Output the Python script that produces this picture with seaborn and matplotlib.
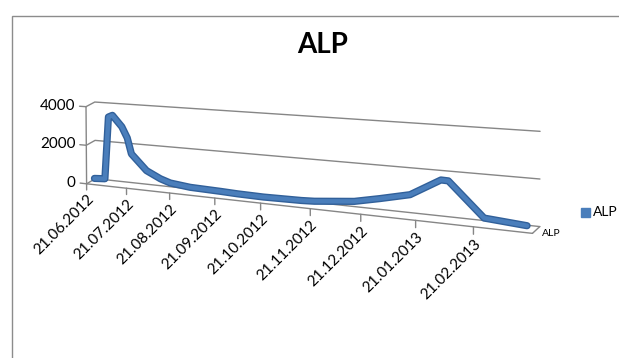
import numpy as np
import pandas as pd
import matplotlib
matplotlib.use("Agg")
import matplotlib.pyplot as plt
import matplotlib.transforms as mtransforms
import matplotlib.patheffects as pe
from matplotlib.patches import Rectangle
import seaborn as sns

# data
dates = ["21.06.2012", "29.06.2012", "02.07.2012", "05.07.2012", "12.07.2012",
         "16.07.2012", "19.07.2012", "30.07.2012", "09.08.2012", "16.08.2012",
         "30.08.2012", "20.09.2012", "01.10.2012", "18.10.2012", "11.11.2012",
         "19.11.2012", "13.12.2012", "28.12.2012", "14.01.2013", "31.01.2013",
         "04.02.2013", "23.02.2013", "17.03.2013"]
alp = [40, 80, 3300, 3400, 2850, 2300, 1500, 720, 380, 220,
       110, 70, 40, 20, 50, 80, 270, 520, 830, 1610,
       1600, 140, 10]
tick_dates = ["21.06.2012", "21.07.2012", "21.08.2012", "21.09.2012", "21.10.2012",
              "21.11.2012", "21.12.2012", "21.01.2013", "21.02.2013"]
y_ticks = [0, 2000, 4000]
axis_end = "23.03.2013"
series_name = "ALP"

W, H = 619, 358
sns.set_style("white")
plt.rcParams["font.family"] = ["Lato", "DejaVu Sans"]
plt.rcParams["text.color"] = "black"

start = pd.to_datetime(dates[0], format="%d.%m.%Y")
def day(s):
    return (pd.to_datetime(s, format="%d.%m.%Y") - start).days

T0 = float(day(axis_end))
V0 = float(max(y_ticks))

# 3d box of the excel chart: (days, value, depth) -> picture pixel
world = np.array([
    (0, 0, 0), (0, 2000, 0), (0, 4000, 0), (61, 0, 0), (122, 0, 0),
    (184, 0, 0), (245, 0, 0), (T0, 0, 0),
    (0, 0, 1), (0, 2000, 1), (0, 4000, 1), (T0, 0, 1), (T0, 2000, 1), (T0, 4000, 1)])
img = np.array([
    (86.5, 183.5), (86, 145), (86, 106), (171, 194), (261, 204),
    (360, 215), (474, 227), (533, 232),
    (95, 178), (95, 141), (95, 102), (540, 226), (540, 179), (540, 132)])


def fit_camera(world, img):
    X = world / [T0, V0, 1.0]
    p = img / 600.0
    rows = []
    for (a, b, c), (x, y) in zip(X, p):
        rows.append([a, b, c, 1, 0, 0, 0, 0, -x * a, -x * b, -x * c, -x])
        rows.append([0, 0, 0, 0, a, b, c, 1, -y * a, -y * b, -y * c, -y])
    _, _, vt = np.linalg.svd(np.array(rows))
    return vt[-1].reshape(3, 4)


P = fit_camera(world, img)


class Persp(mtransforms.Transform):
    input_dims = output_dims = 2
    is_separable = False
    has_inverse = False

    def __init__(self, z):
        super().__init__()
        self.Hm = np.column_stack([P[:, 0], P[:, 1], P[:, 3] + z * P[:, 2]])

    def transform_non_affine(self, values):
        v = np.asarray(values, float)
        shp = v.shape
        v = v.reshape(-1, 2)
        q = np.column_stack([v[:, 0] / T0, v[:, 1] / V0, np.ones(len(v))]) @ self.Hm.T
        x = q[:, 0] / q[:, 2] * 600
        y = q[:, 1] / q[:, 2] * 600
        return np.column_stack([x, H - y]).reshape(shp)


front, back, mid = Persp(0.0), Persp(1.0), Persp(0.9)
pix = mtransforms.IdentityTransform()

fig = plt.figure(figsize=(W / 100, H / 100), dpi=100)
ax = fig.add_axes([0, 0, 1, 1])
ax.set_axis_off()

grid = "#868686"
# gridlines: side wall + back wall
for v in y_ticks:
    pts = np.vstack([front.transform([0, v]), back.transform([0, v]), back.transform([T0, v])])
    ax.plot(pts[:, 0], pts[:, 1], color=grid, lw=1, transform=pix, clip_on=False)

# value axis
ax.plot([0, 0], [0, V0], color=grid, lw=1, transform=front, clip_on=False)
for v in y_ticks:
    ax.plot([-5, 0], [v, v], color=grid, lw=1, transform=front, clip_on=False)
    ax.text(-8.5, v, str(v), transform=front, ha="right", va="center", fontsize=11)

# category axis
ax.plot([0, T0], [0, 0], color=grid, lw=1, transform=front, clip_on=False)
for s in tick_dates:
    t = day(s)
    ax.plot([t, t], [0, -320], color=grid, lw=1, transform=front, clip_on=False)
    ax.text(t, -420, s, transform=front, rotation=45, rotation_mode="anchor",
            ha="right", va="top", fontsize=11)

# depth axis at right end
pts = np.vstack([front.transform([T0, 0]), back.transform([T0, 0])])
ax.plot(pts[:, 0], pts[:, 1], color=grid, lw=1, transform=pix, clip_on=False)
ax.text(T0 + 3, -100, series_name, transform=Persp(0.5), ha="left", va="center", fontsize=7.5)

# series
df = pd.DataFrame({"day": [day(s) for s in dates], "ALP": alp})
sns.lineplot(data=df, x="day", y="ALP", ax=ax, color="#4A7EBB", linewidth=3.2)
line = ax.lines[-1]
line.set_transform(mid)
line.set_clip_on(False)
line.set_solid_joinstyle("round")
line.set_path_effects([pe.Stroke(linewidth=5.2, foreground="#31609A"), pe.Normal()])

# title, legend, border
fig.text(323 / W, 1 - 45 / H, "ALP", ha="center", va="center", fontsize=20, fontweight="bold")
fig.add_artist(Rectangle((581, H - 217), 9, 9, color="#4A7EBB", transform=pix))
fig.text(593 / W, 1 - 212 / H, series_name, ha="left", va="center", fontsize=10)
fig.add_artist(Rectangle((12, -5), 700, H - 16 + 5, fill=False, edgecolor="#8C8C8C", lw=1,
                         transform=pix))

fig.savefig("out.png", dpi=100)
